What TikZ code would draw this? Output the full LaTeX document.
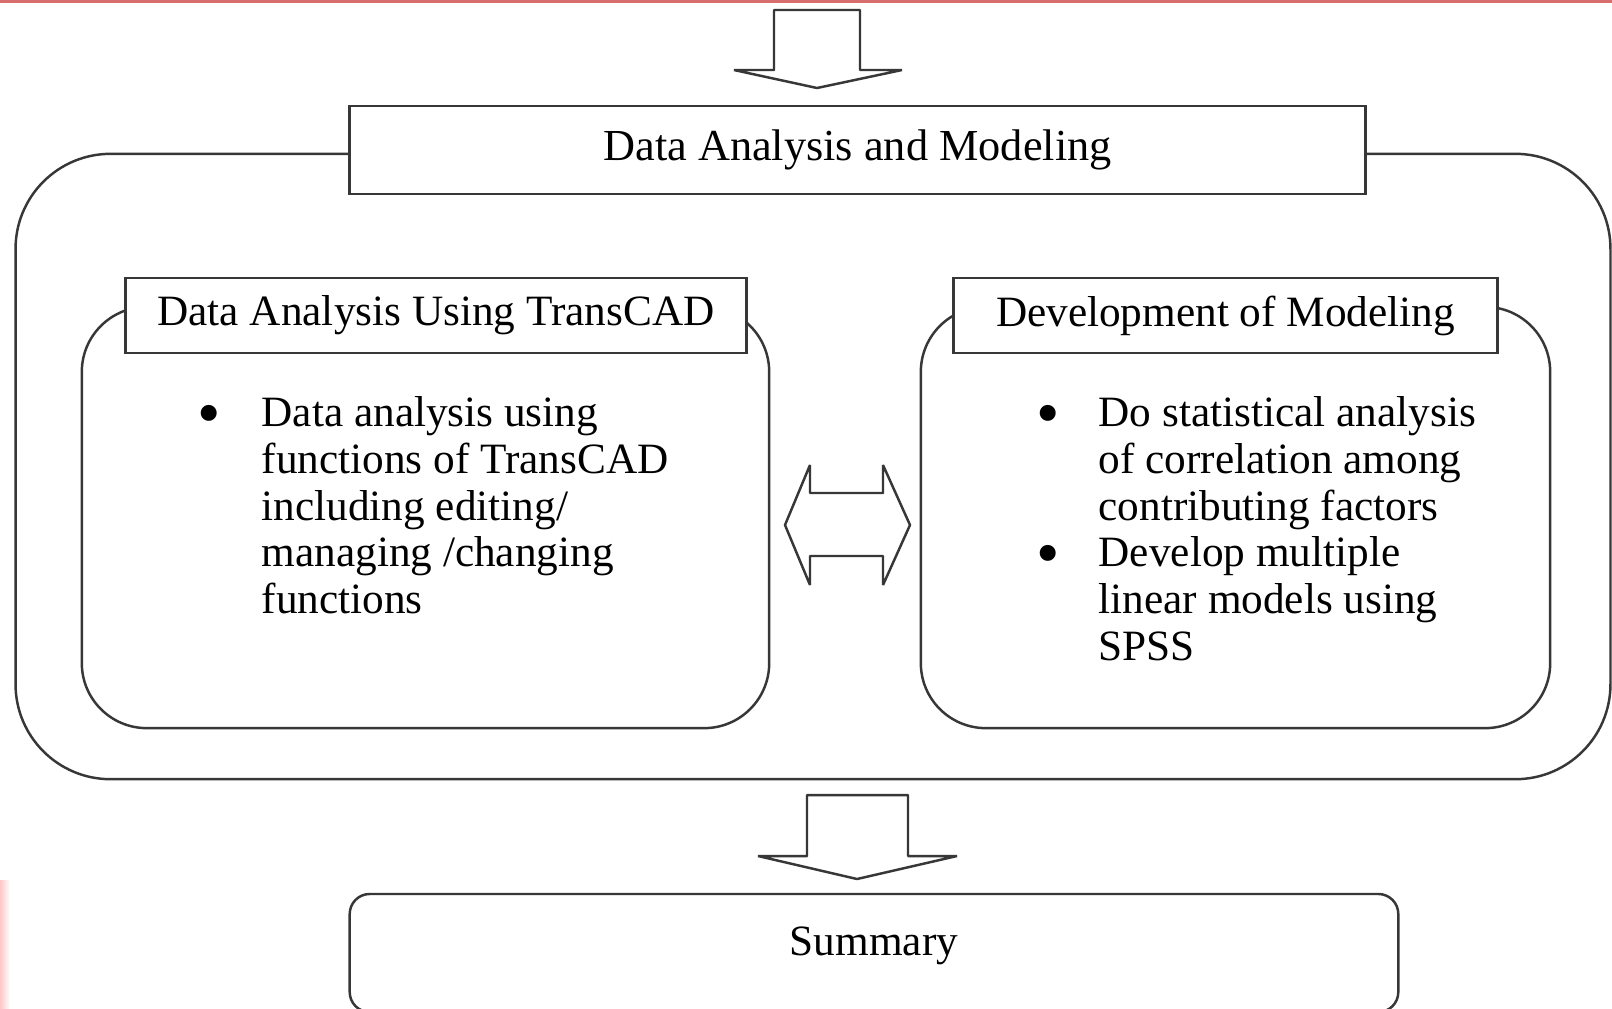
\documentclass[tikz,border=0pt]{standalone}
\usepackage{fontspec}
\setmainfont{Liberation Serif}
\usetikzlibrary{positioning}
\definecolor{edge}{RGB}{55,55,55}
\definecolor{topred}{RGB}{214,110,110}
\newcommand{\bigdot}{{\fontsize{19}{13.3}\selectfont\raisebox{-2.6pt}{\textbullet}}}

\begin{document}
\begin{tikzpicture}[
    x=0.01cm, y=-0.01cm,
    every node/.style={font=\fontsize{12.3}{13.3}\selectfont},
    outerframe/.style={draw=edge, line width=0.7pt, rounded corners=0.95cm, inner sep=0pt},
    panel/.style={draw=edge, line width=0.7pt, rounded corners=0.65cm, inner sep=0pt},
    heading/.style={draw=edge, line width=0.8pt, fill=white, inner sep=0pt,
                    font=\fontsize{12.6}{13.3}\selectfont},
    tag/.style={draw=edge, line width=0.8pt, fill=white, inner sep=0pt, minimum height=0.75cm},
    items/.style={anchor=north west, inner sep=0pt},
    summarybox/.style={draw=edge, line width=0.7pt, rounded corners=0.2cm, inner sep=0pt,
                       text depth=0.23cm},
    blockarrow/.style={draw=edge, line width=0.7pt, fill=white, line join=bevel}
]
\useasboundingbox (0,0) rectangle (1612,1008);
\fill[white] (0,0) rectangle (1612,1008);
\fill[topred] (0,0) rectangle (1612,2.5);
\shade[left color=red!22, right color=white] (0,880) rectangle (10,1008);

% outer stage and its heading
\node[outerframe, minimum width=15.94cm, minimum height=6.25cm] (stage) at (813,466.5) {};
\node[heading, minimum width=10.15cm, minimum height=0.88cm] (title) at (857.5,150) {Data Analysis and Modeling};

% the two work panels
\node[panel, minimum width=6.87cm, minimum height=4.21cm] (gis) at (425.5,517.5) {};
\node[tag, minimum width=6.2cm] (gistag) at (436,315.5) {Data Analysis Using TransCAD};
\node[panel, minimum width=6.29cm, minimum height=4.21cm] (model) at (1235.5,517.5) {};
\node[tag, minimum width=5.43cm] (modeltag) at (1225.5,315.5) {Development of Modeling};

\node[items] (gisitems) at (197,393) {\begin{tabular}{@{}p{0.64cm}@{}l@{}}
\bigdot & Data analysis using\\
 & functions of TransCAD\\
 & including editing/\\
 & managing /changing\\
 & functions
\end{tabular}};
\node[items] (modelitems) at (1036,393) {\begin{tabular}{@{}p{0.62cm}@{}l@{}}
\bigdot & Do statistical analysis\\
 & of correlation among\\
 & contributing factors\\
\bigdot & Develop multiple\\
 & linear models using\\
 & SPSS
\end{tabular}};

\node[summarybox, minimum width=10.48cm, minimum height=1.18cm] (summary) at (874,953) {Summary};

% block arrows
\draw[blockarrow] (774,10) -- (860,10) -- (860,70) -- (902,70) -- (817,88)
    -- (734,70) -- (774,70) -- cycle;
\draw[blockarrow] (785,525) -- (810,465) -- (810,493) -- (883,493) -- (883,465)
    -- (910,525) -- (883,585) -- (883,556) -- (810,556) -- (810,585) -- cycle;
\draw[blockarrow] (807,795) -- (908,795) -- (908,856) -- (957,856) -- (857,879)
    -- (758,856) -- (807,856) -- cycle;
\end{tikzpicture}
\end{document}
